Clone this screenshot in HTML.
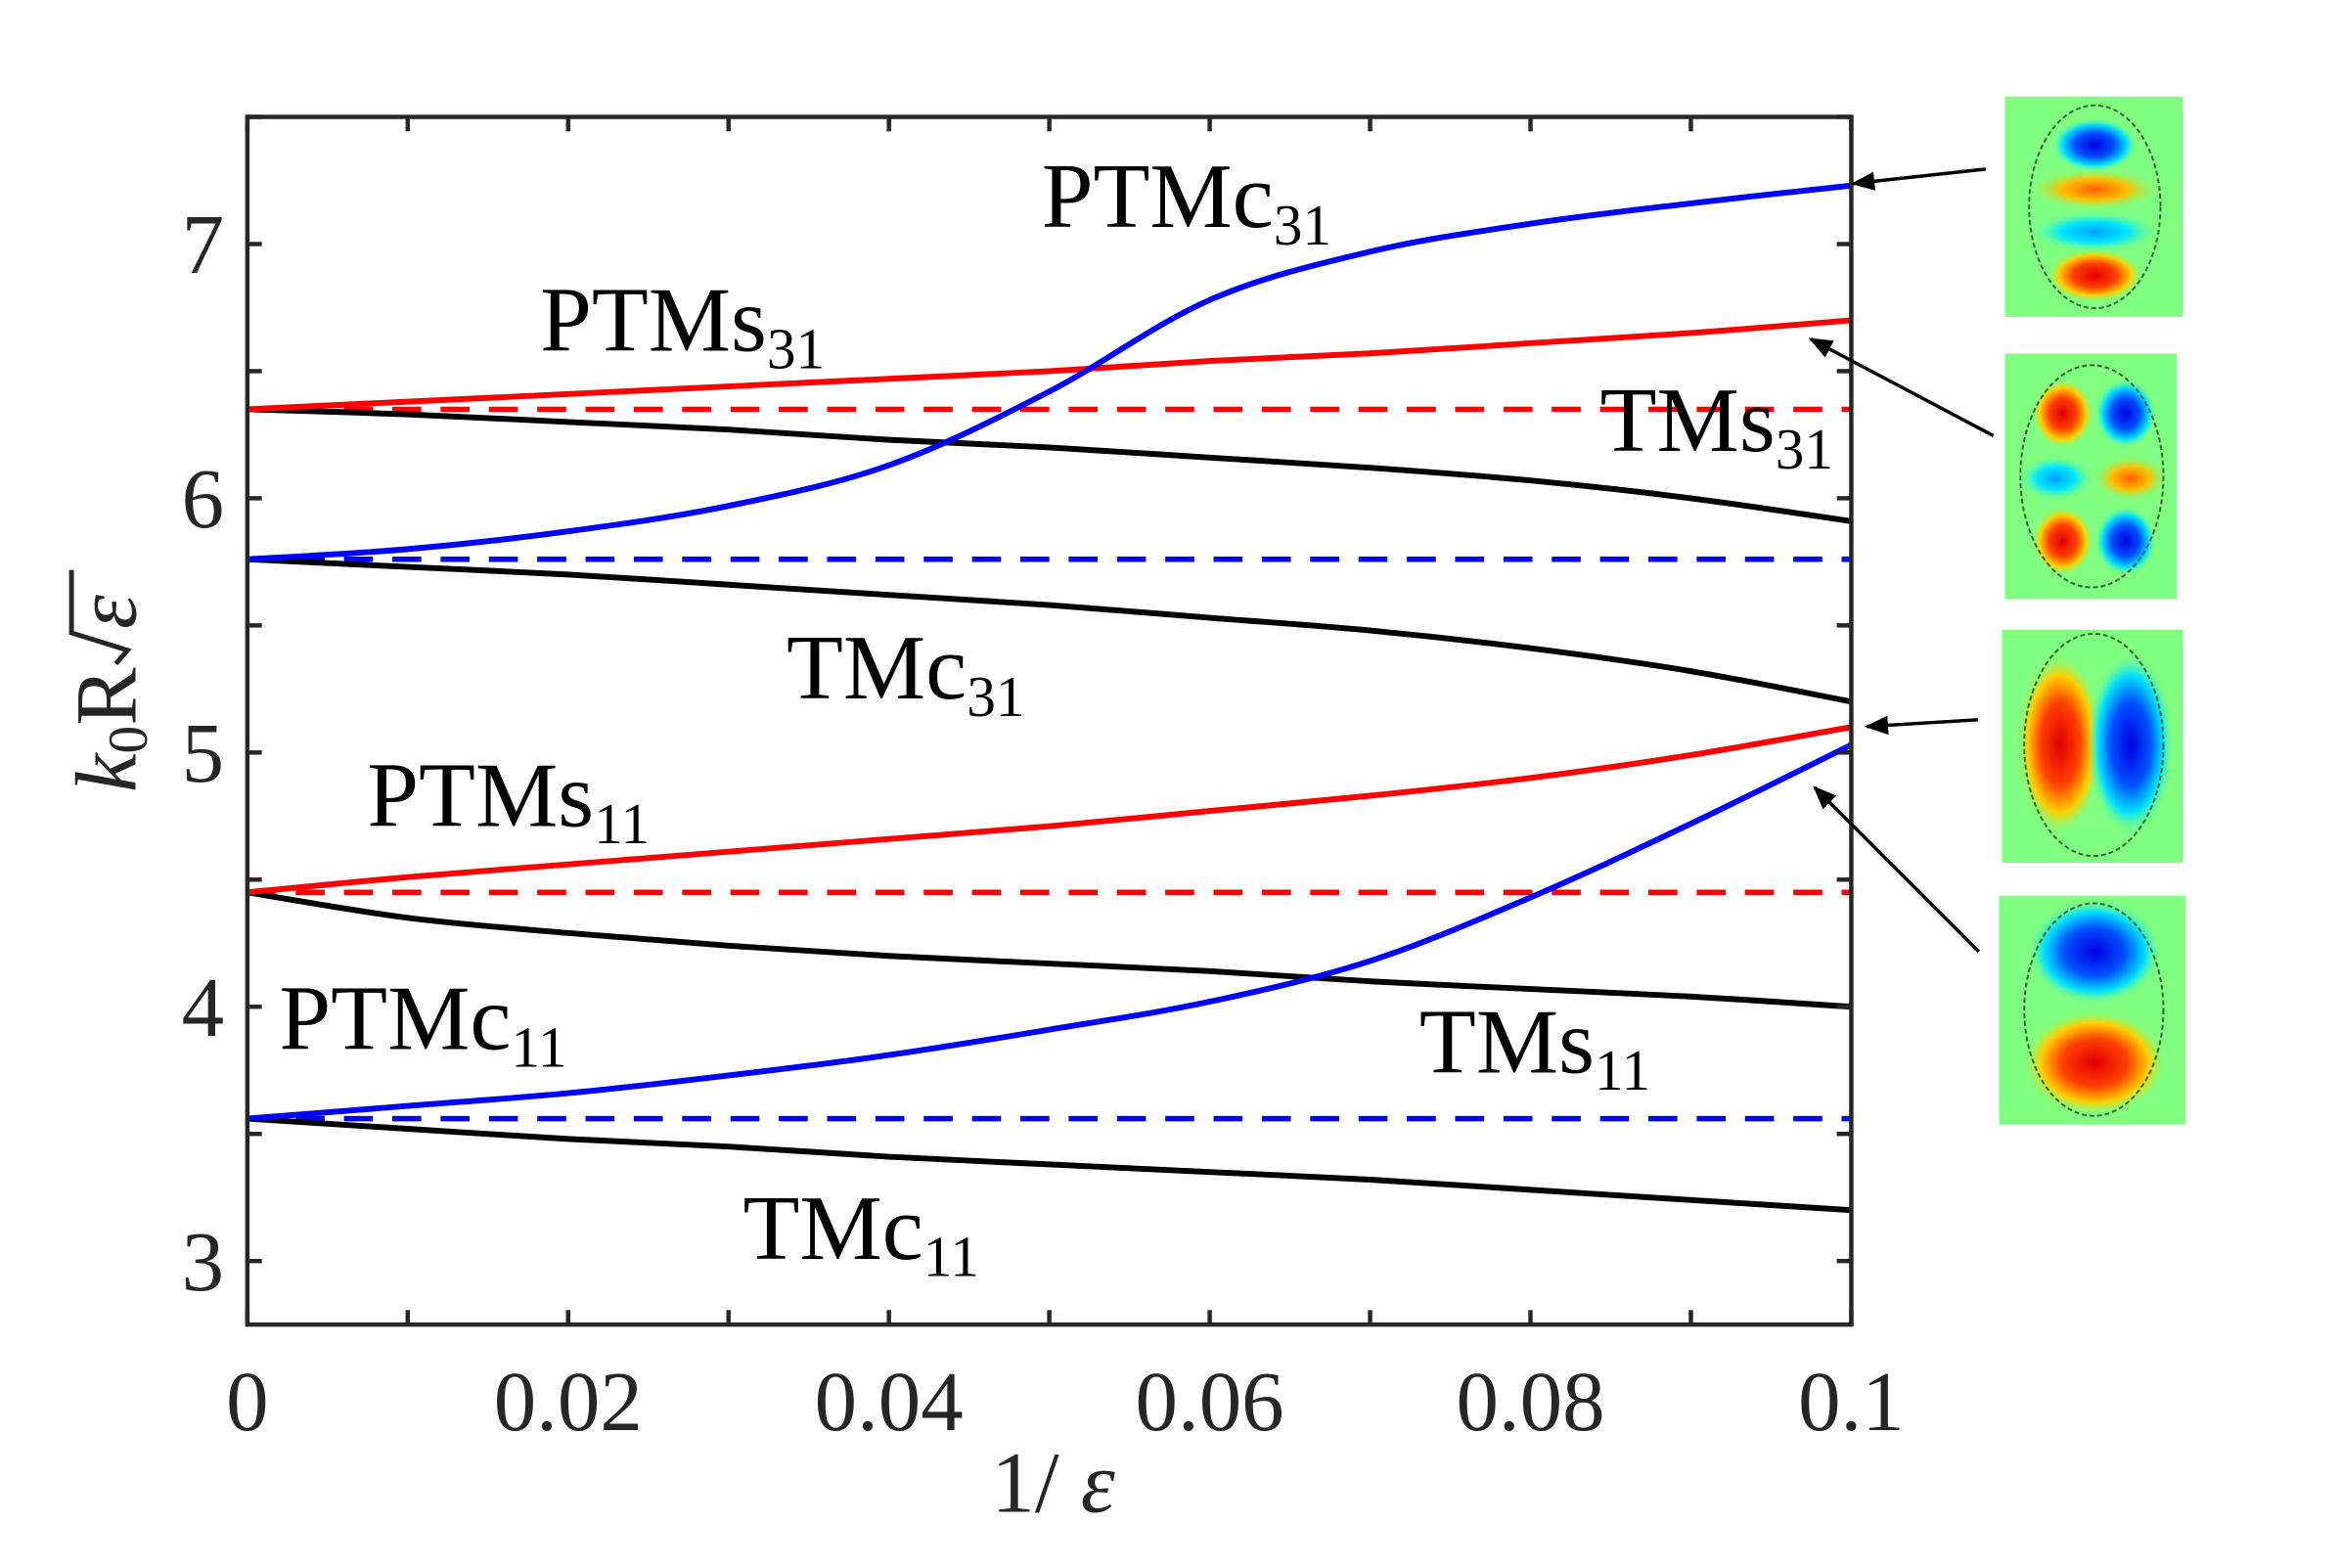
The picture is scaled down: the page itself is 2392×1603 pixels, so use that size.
<!DOCTYPE html>
<html><head><meta charset="utf-8"><style>
html,body{margin:0;padding:0;background:#fff;}
svg{display:block;}
text{font-family:"Liberation Serif","DejaVu Serif",serif;}
</style></head><body>
<svg id="chart" width="2392" height="1603" viewBox="0 0 2392 1603" xmlns="http://www.w3.org/2000/svg">
<defs>
<radialGradient id="gr"><stop offset="0" stop-color="#e00000"/><stop offset="0.45" stop-color="#ff4000"/><stop offset="0.75" stop-color="#ffd000"/><stop offset="1" stop-color="#80ff80" stop-opacity="0"/></radialGradient>
<radialGradient id="gb"><stop offset="0" stop-color="#0000e0"/><stop offset="0.45" stop-color="#0050ff"/><stop offset="0.75" stop-color="#00e0ff"/><stop offset="1" stop-color="#80ff80" stop-opacity="0"/></radialGradient>
<radialGradient id="go"><stop offset="0" stop-color="#ff6000"/><stop offset="0.5" stop-color="#ffc000"/><stop offset="1" stop-color="#80ff80" stop-opacity="0"/></radialGradient>
<radialGradient id="gc"><stop offset="0" stop-color="#00a0ff"/><stop offset="0.5" stop-color="#00e8ff"/><stop offset="1" stop-color="#80ff80" stop-opacity="0"/></radialGradient>
<marker id="ah" viewBox="0 0 10 10" refX="9" refY="5" markerWidth="7" markerHeight="7" orient="auto"><path d="M0,1 L10,5 L0,9 z" fill="#000"/></marker>
</defs>
<g id="plot" transform="scale(0.9877)"></g>
</svg>
<script>
const xs = [0,0.01,0.02,0.03,0.04,0.05,0.06,0.07,0.08,0.09,0.1];
const ptms31 = [6.35,6.38,6.41,6.44,6.47,6.50,6.54,6.57,6.61,6.65,6.70];
const ptmc31 = [5.76,5.80,5.87,5.97,6.13,6.42,6.78,6.97,7.08,7.16,7.23];
const tms31 = [6.35,6.33,6.30,6.27,6.23,6.20,6.16,6.12,6.07,6.00,5.91];
const tmc31 = [5.76,5.73,5.70,5.66,5.62,5.58,5.53,5.48,5.41,5.32,5.20];
const ptms11 = [4.45,4.51,4.56,4.61,4.66,4.71,4.77,4.83,4.90,4.99,5.10];
const ptmc11 = [3.56,3.61,3.66,3.73,3.81,3.91,4.02,4.18,4.43,4.72,5.03];
const tms11 = [4.45,4.35,4.29,4.24,4.20,4.17,4.14,4.10,4.07,4.04,4.00];
const tmc11 = [3.56,3.52,3.48,3.45,3.41,3.38,3.35,3.32,3.28,3.24,3.20];
const dashedLevels = [6.35,5.76,4.45,3.56];
const dashedColors = ['#ff0000','#0000ff','#ff0000','#0000ff'];
const xTickLabels = ['0','0.02','0.04','0.06','0.08','0.1'];
const yTickLabels = ['3','4','5','6','7'];

const NS='http://www.w3.org/2000/svg';
const L=256,R=1916,T=121,B=1371, X0=0,X1=0.1,Y0=2.75,Y1=7.5;
const sx=v=>L+(v-X0)/(X1-X0)*(R-L);
const sy=v=>B-(v-Y0)/(Y1-Y0)*(B-T);
const g=document.getElementById('plot');
function mk(tag,attrs,parent){const e=document.createElementNS(NS,tag);for(const k in attrs)e.setAttribute(k,attrs[k]);(parent||g).appendChild(e);return e;}
function smooth(vals){
  const p=xs.map((x,i)=>[sx(x),sy(vals[i])]);
  let d='M'+p[0][0]+','+p[0][1];
  for(let i=0;i<p.length-1;i++){
    const p0=p[i-1]||p[i],p1=p[i],p2=p[i+1],p3=p[i+2]||p2;
    const c1=[p1[0]+(p2[0]-p0[0])/6,p1[1]+(p2[1]-p0[1])/6];
    const c2=[p2[0]-(p3[0]-p1[0])/6,p2[1]-(p3[1]-p1[1])/6];
    d+=` C${c1[0]},${c1[1]} ${c2[0]},${c2[1]} ${p2[0]},${p2[1]}`;
  }
  return d;
}
dashedLevels.forEach((v,i)=>{
  const e=mk('line',{x1:sx(0),x2:sx(0.1),y1:sy(v),y2:sy(v),stroke:dashedColors[i],'stroke-width':5.5,'stroke-dasharray':'30,20'});
  
  
});
const series=[[tms31,'#000','tms31-curve'],[tmc31,'#000','tmc31-curve'],[tms11,'#000','tms11-curve'],[tmc11,'#000','tmc11-curve'],
[ptms31,'#ff0000','ptms31-curve'],[ptms11,'#ff0000','ptms11-curve'],[ptmc31,'#0000ff','ptmc31-curve'],[ptmc11,'#0000ff','ptmc11-curve']];
series.forEach(s=>{
  const e=mk('path',{d:smooth(s[0]),fill:'none',stroke:s[1],'stroke-width':6});
  
  
});
const box=mk('rect',{x:L,y:T,width:R-L,height:B-T,fill:'none',stroke:'#262626','stroke-width':4.5});


for(let i=0;i<=10;i++){const x=sx(i*0.01);
  mk('line',{x1:x,x2:x,y1:B,y2:B-15,stroke:'#262626','stroke-width':4.5});
  mk('line',{x1:x,x2:x,y1:T,y2:T+15,stroke:'#262626','stroke-width':4.5});}
for(let v=3;v<=7.5;v+=0.5){const y=sy(v);
  mk('line',{x1:L,x2:L+15,y1:y,y2:y,stroke:'#262626','stroke-width':4.5});
  mk('line',{x1:R,x2:R-15,y1:y,y2:y,stroke:'#262626','stroke-width':4.5});}
xTickLabels.forEach(t=>{
  const e=mk('text',{x:sx(parseFloat(t)),y:1480,'text-anchor':'middle','font-size':88,fill:'#262626'});e.textContent=t;
  
  
});
yTickLabels.forEach(t=>{
  const e=mk('text',{x:232,y:sy(parseFloat(t))+30,'text-anchor':'end','font-size':88,fill:'#262626'});e.textContent=t;
  
  
});
const labels=[['PTMc','31',1078,235,'label-ptmc31'],['PTMs','31',559,363,'label-ptms31'],['TMs','31',1656,467,'label-tms31'],['TMc','31',814,723,'label-tmc31'],
['PTMs','11',380,855,'label-ptms11'],['PTMc','11',289,1086,'label-ptmc11'],['TMs','11',1469,1110,'label-tms11'],['TMc','11',769,1303,'label-tmc11']];
labels.forEach(l=>{
  const e=mk('text',{x:l[2],y:l[3],'font-size':96,fill:'#000'});
  
  
  const a=mk('tspan',{},e);a.textContent=l[0];
  const b=mk('tspan',{'font-size':60,dy:18},e);b.textContent=l[1];
});
</script>
<svg style="position:absolute;left:0;top:0" width="2392" height="1603" viewBox="0 0 2392 1603" xmlns="http://www.w3.org/2000/svg">
<g transform="scale(0.9877)">
<g><text x="1090" y="1565" text-anchor="middle" font-size="90" fill="#262626" font-family="Liberation Serif, serif">1/ <tspan font-style="italic">ε</tspan></text></g>
<g transform="translate(140,695) rotate(-90)">
<text x="-125" y="0" font-size="90" fill="#262626" font-family="Liberation Serif, serif"><tspan font-style="italic">k</tspan><tspan font-size="58" dy="12">0</tspan><tspan dy="-12">R</tspan></text>
<path d="M8,-20 L22,-8 L40,-66 L105,-66" fill="none" stroke="#262626" stroke-width="5"/>
<text x="44" y="0" font-size="90" font-style="italic" fill="#262626" font-family="Liberation Serif, serif">ε</text>
</g>
<g stroke="#000" stroke-width="3.5" marker-end="url(#ah)">
<line x1="2055" y1="175" x2="1918" y2="190"/>
<line x1="2063" y1="451" x2="1874" y2="351"/>
<line x1="2047" y1="745" x2="1932" y2="752"/>
<line x1="2048" y1="985" x2="1878" y2="815"/>
</g>
<g>
<rect x="2075" y="100" width="184" height="228" fill="#80ff80"/>
<ellipse cx="2168" cy="150" rx="45" ry="28" fill="url(#gb)"/>
<ellipse cx="2168" cy="196" rx="70" ry="22" fill="url(#go)"/>
<ellipse cx="2168" cy="240" rx="70" ry="22" fill="url(#gc)"/>
<ellipse cx="2168" cy="285" rx="50" ry="28" fill="url(#gr)"/>
<ellipse cx="2168" cy="214" rx="68" ry="105" fill="none" stroke="#336633" stroke-width="2" stroke-dasharray="5,3"/>
</g>
<g>
<rect x="2075" y="366" width="178" height="254" fill="#80ff80"/>
<ellipse cx="2135" cy="428" rx="32" ry="36" fill="url(#gr)"/>
<ellipse cx="2200" cy="428" rx="32" ry="36" fill="url(#gb)"/>
<ellipse cx="2128" cy="495" rx="40" ry="24" fill="url(#gc)"/>
<ellipse cx="2205" cy="495" rx="40" ry="24" fill="url(#go)"/>
<ellipse cx="2135" cy="560" rx="32" ry="36" fill="url(#gr)"/>
<ellipse cx="2200" cy="560" rx="32" ry="36" fill="url(#gb)"/>
<ellipse cx="2165" cy="493" rx="74" ry="115" fill="none" stroke="#336633" stroke-width="2" stroke-dasharray="5,3"/>
</g>
<g>
<rect x="2072" y="652" width="187" height="241" fill="#80ff80"/>
<ellipse cx="2132" cy="770" rx="45" ry="95" fill="url(#gr)"/>
<ellipse cx="2205" cy="770" rx="45" ry="95" fill="url(#gb)"/>
<ellipse cx="2167" cy="771" rx="72" ry="115" fill="none" stroke="#336633" stroke-width="2" stroke-dasharray="5,3"/>
</g>
<g>
<rect x="2069" y="927" width="193" height="237" fill="#80ff80"/>
<ellipse cx="2168" cy="985" rx="70" ry="55" fill="url(#gb)"/>
<ellipse cx="2168" cy="1100" rx="75" ry="55" fill="url(#gr)"/>
<ellipse cx="2167" cy="1045" rx="72" ry="110" fill="none" stroke="#336633" stroke-width="2" stroke-dasharray="5,3"/>
</g>
</g>
</svg>
</body></html>
